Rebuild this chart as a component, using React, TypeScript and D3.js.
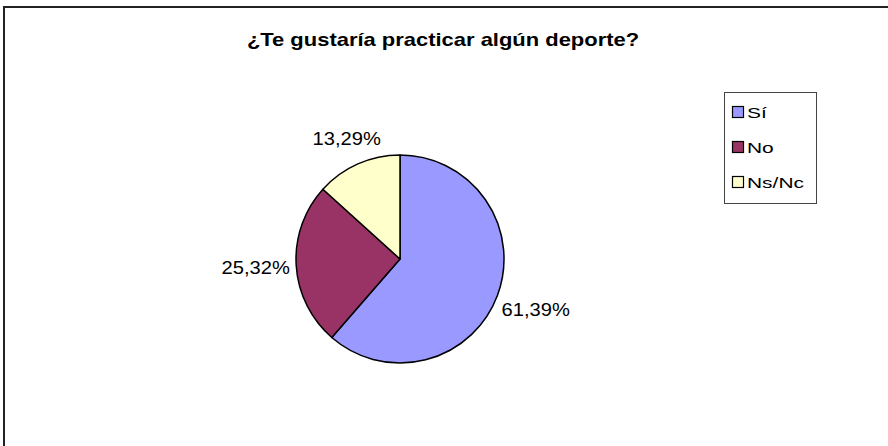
import React from "react";
import * as d3 from "d3";

const categories = ["Sí", "No", "Ns/Nc"];
const values = [61.39, 25.32, 13.29];
const labels = ["61,39%", "25,32%", "13,29%"];
const colors = ["#9999FF", "#993366", "#FFFFCC"];
const title = "¿Te gustaría practicar algún deporte?";

export default function App() {
  const W = 888, H = 446;
  const cx = 400, cy = 259, r = 104;
  const font = "'Liberation Sans', Arial, sans-serif";
  const pie = d3.pie<number>().sort(null).value((d) => d)(values);
  const arc = d3.arc<d3.PieArcDatum<number>>().innerRadius(0).outerRadius(r);
  const labelFs = 18, labelSx = 1.12;
  const gap = 6;
  return (
    <svg width={W} height={H} style={{ position: "absolute", left: 0, top: 0 }}>
      <rect x={0} y={0} width={W} height={H} fill="#fff" />
      <rect x={4} y={7} width={W + 20} height={H + 20} fill="none" stroke="#222" strokeWidth={2} />
      <text transform={`translate(443,46) scale(1.22,1)`} textAnchor="middle" fontFamily={font} fontWeight="bold" fontSize={18}>{title}</text>
      <g transform={`translate(${cx},${cy})`}>
        {pie.map((p, i) => (
          <path key={i} d={arc(p) || ""} fill={colors[i]} stroke="#000" strokeWidth={1.5} strokeLinejoin="round" />
        ))}
        {pie.map((p, i) => {
          const a = (p.startAngle + p.endAngle) / 2;
          const ux = Math.sin(a), uy = -Math.cos(a);
          const w = labels[i].length * 0.565 * labelFs * labelSx;
          const h = labelFs * 0.9;
          const ext = Math.abs(ux) * w / 2 + Math.abs(uy) * h / 2;
          const d = r + gap + ext;
          const x = ux * d, y = uy * d;
          return (
            <text key={i} transform={`translate(${x},${y + labelFs * 0.35}) scale(${labelSx},1)`} textAnchor="middle" fontFamily={font} fontSize={labelFs}>{labels[i]}</text>
          );
        })}
      </g>
      <rect x={724.5} y={92.5} width={92} height={111} fill="#fff" stroke="#444" strokeWidth={1} />
      {categories.map((c, i) => (
        <g key={c}>
          <rect x={732.5} y={106.5 + i * 35} width={11} height={11} fill={colors[i]} stroke="#000" strokeWidth={1.2} />
          <text transform={`translate(747,${112 + i * 35 + 5.5}) scale(1.35,1)`} fontFamily={font} fontSize={15.5}>{c}</text>
        </g>
      ))}
    </svg>
  );
}
